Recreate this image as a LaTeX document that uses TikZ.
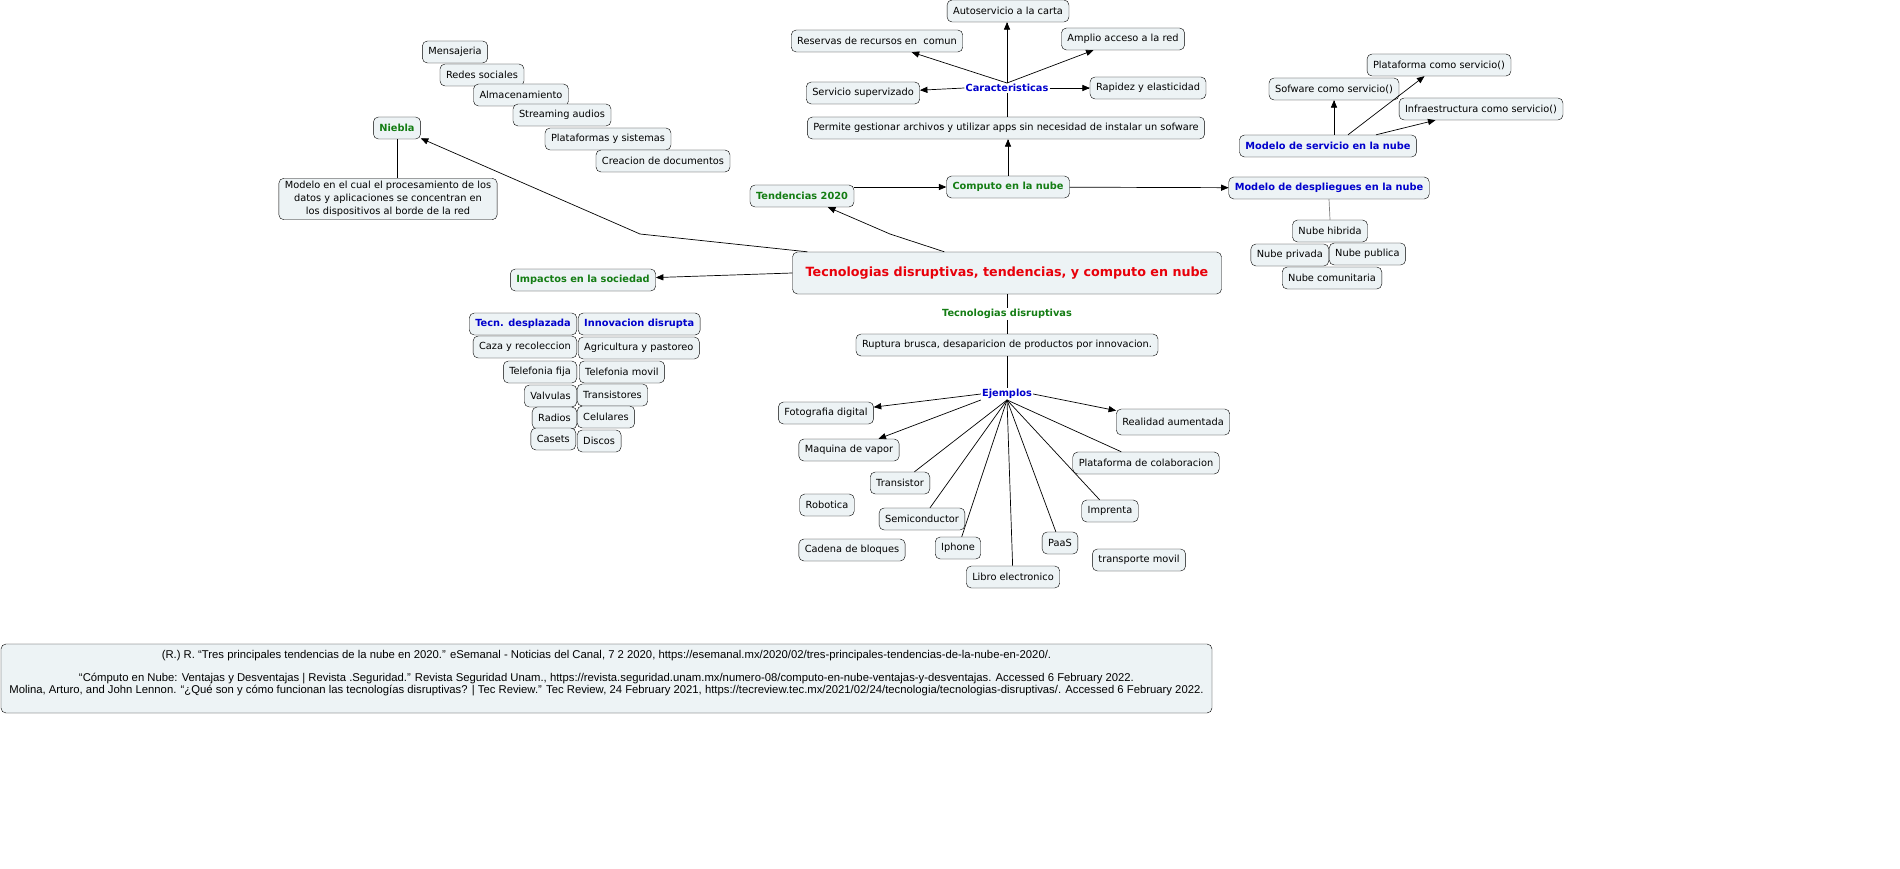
\documentclass[tikz,border=0pt]{standalone}
\usepackage{fontspec}
\setmainfont{DejaVu Sans}
\newfontfamily\bibfont{Liberation Sans}
\usepackage{tikz}
\usetikzlibrary{shapes.geometric, arrows}
\usetikzlibrary{positioning}
\usetikzlibrary{calc}
\definecolor{cmapfill}{RGB}{237,243,245}
\definecolor{cmapgreen}{RGB}{20,125,20}
\definecolor{cmapblue}{RGB}{0,0,204}
\definecolor{cmapred}{RGB}{232,0,10}
\tikzstyle{concept} = [rectangle, rounded corners=5pt, draw=black, fill=cmapfill, minimum height=22pt, inner xsep=6pt, inner ysep=2pt, font=\fontsize{9.8}{11}\selectfont]
\tikzstyle{greenbox} = [concept, text=cmapgreen, font=\fontsize{9.8}{11}\selectfont\bfseries]
\tikzstyle{bluebox} = [concept, text=cmapblue, font=\fontsize{9.8}{11}\selectfont\bfseries]
\tikzstyle{phrase} = [inner sep=1pt, font=\fontsize{9.8}{11}\selectfont\bfseries]
\tikzstyle{arrow} = [line width=0.7pt,->,>=triangle 45]
\tikzstyle{link} = [line width=0.7pt]

\begin{document}
\begin{tikzpicture}[x=1pt,y=-1pt]
    \useasboundingbox (0,0) rectangle (1900,869);
    \fill[white] (0,0) rectangle (1900,869);
    % computo en la nube
    \node[concept] (auto) at (1008,11) {Autoservicio a la carta};
    \node[concept] (reservas) at (877,41) {Reservas de recursos en\ \ comun};
    \node[concept] (amplio) at (1123,39) {Amplio acceso a la red};
    \node[concept] (supervizado) at (863,93) {Servicio supervizado};
    \node[phrase, text=cmapblue] (carac) at (1007,88) {Caracteristicas};
    \node[concept] (rapidez) at (1148,88) {Rapidez y elasticidad};
    \node[concept] (permite) at (1006,128) {Permite gestionar archivos y utilizar apps sin necesidad de instalar un sofware};
    \node[greenbox] (computo) at (1008,187) {Computo en la nube};
    \node[greenbox] (tendencias) at (802,196) {Tendencias 2020};
    \node[bluebox] (despliegue) at (1329,188) {Modelo de despliegues en la nube};
    \node[bluebox] (servicio) at (1328,146) {Modelo de servicio en la nube};
    \node[concept] (sofware) at (1334,89) {Sofware como servicio()};
    \node[concept] (plataforma) at (1439,65) {Plataforma como servicio()};
    \node[concept] (infra) at (1481,109) {Infraestructura como servicio()};
    \node[concept] (hibrida) at (1330,231) {Nube hibrida};
    \node[concept, anchor=east] (privada) at (1329,255) {Nube privada};
    \node[concept, anchor=west] (publica) at (1329,254) {Nube publica};
    \node[concept] (comunitaria) at (1332,278) {Nube comunitaria};
    % tema central
    \node[concept, minimum width=429pt, minimum height=42pt, text=cmapred, font=\fontsize{12.7}{14}\selectfont\bfseries] (tema) at (1007,273) {Tecnologias disruptivas, tendencias, y computo en nube};
    \node[greenbox] (impactos) at (583,280) {Impactos en la sociedad};
    \node[greenbox] (niebla) at (397,128) {Niebla};
    \node[concept, align=center, inner ysep=3pt, font=\fontsize{9.8}{13}\selectfont] (nieblatxt) at (388,199) {Modelo en el cual el procesamiento de los\\ datos y aplicaciones se concentran en\\ los dispositivos al borde de la red};
    % servicios sueltos
    \node[concept] (mensajeria) at (455,52) {Mensajeria};
    \node[concept] (redes) at (482,75) {Redes sociales};
    \node[concept] (almacen) at (521,95) {Almacenamiento};
    \node[concept] (streaming) at (562,115) {Streaming audios};
    \node[concept] (sistemas) at (608,139) {Plataformas y sistemas};
    \node[concept] (documentos) at (663,161) {Creacion de documentos};
    % impactos
    \node[bluebox, anchor=east] (desplazada) at (577,324) {Tecn. desplazada};
    \node[bluebox, anchor=west] (disrupta) at (578,324) {Innovacion disrupta};
    \node[concept, anchor=east] (caza) at (577,347) {Caza y recoleccion};
    \node[concept, anchor=west] (agricultura) at (578,348) {Agricultura y pastoreo};
    \node[concept, anchor=east] (fija) at (577,372) {Telefonia fija};
    \node[concept, anchor=west] (movil) at (579,372) {Telefonia movil};
    \node[concept, anchor=east] (valvulas) at (577,396) {Valvulas};
    \node[concept, anchor=west] (transistores) at (577,395) {Transistores};
    \node[concept, anchor=east] (radios) at (577,418) {Radios};
    \node[concept, anchor=west] (celulares) at (577,417) {Celulares};
    \node[concept, anchor=east] (casets) at (576,439) {Casets};
    \node[concept, anchor=west] (discos) at (577,441) {Discos};
    % tecnologias disruptivas
    \node[phrase, text=cmapgreen] (tecdis) at (1007,314) {Tecnologias disruptivas};
    \node[concept] (ruptura) at (1007,345) {Ruptura brusca, desaparicion de productos por innovacion.};
    \node[phrase, text=cmapblue] (ejemplos) at (1007,394) {Ejemplos};
    \node[concept] (fotografia) at (826,413) {Fotografia digital};
    \node[concept] (vapor) at (849,450) {Maquina de vapor};
    \node[concept, minimum height=26pt] (realidad) at (1173,422) {Realidad aumentada};
    \node[concept] (colaboracion) at (1146,463) {Plataforma de colaboracion};
    \node[concept] (transistor) at (900,483) {Transistor};
    \node[concept] (robotica) at (827,505) {Robotica};
    \node[concept] (semiconductor) at (922,519) {Semiconductor};
    \node[concept] (imprenta) at (1110,511) {Imprenta};
    \node[concept] (bloques) at (852,550) {Cadena de bloques};
    \node[concept] (iphone) at (958,548) {Iphone};
    \node[concept] (paas) at (1060,543) {PaaS};
    \node[concept] (transporte) at (1139,560) {transporte movil};
    \node[concept] (libro) at (1013,577) {Libro electronico};
    % fuentes
    \node[concept, minimum width=1211pt, minimum height=69pt, align=center, font=\bibfont\fontsize{11.3}{12.5}\selectfont] (fuentes) at (606.5,678.5) {(R.) R. “Tres principales tendencias de la nube en 2020.” eSemanal - Noticias del Canal, 7 2 2020, https://esemanal.mx/2020/02/tres-principales-tendencias-de-la-nube-en-2020/.\\[10pt]
        “Cómputo en Nube: Ventajas y Desventajas | Revista .Seguridad.” Revista Seguridad Unam., https://revista.seguridad.unam.mx/numero-08/computo-en-nube-ventajas-y-desventajas. Accessed 6 February 2022.\\
        Molina, Arturo, and John Lennon. “¿Qué son y cómo funcionan las tecnologías disruptivas? | Tec Review.” Tec Review, 24 February 2021, https://tecreview.tec.mx/2021/02/24/tecnologia/tecnologias-disruptivas/. Accessed 6 February 2022.\\ \mbox{}};

    % conexiones
    \coordinate (q1) at (640,234);
    \coordinate (q2) at (890,234);
    \draw[link] ($(tema.north west)+(15,0)$) -- (q1);
    \draw[arrow] (q1) -- (niebla);
    \draw[link] ($(tema.north west)+(152,0)$) -- (q2);
    \draw[arrow] (q2) -- (tendencias);
    \draw[arrow] (tema.west) -- (impactos);
    \draw[arrow] (tendencias.east |- computo) -- (computo);
    \draw[arrow] (computo.north) -- (computo.north |- permite.south);
    \draw[arrow] (computo) -- (despliegue);
    \draw[link, gray] (despliegue.south) -- (hibrida.north);
    \draw[link] (carac.south |- permite.north) -- (carac.south);
    \draw[arrow] (carac.north) -- (carac.north |- auto.south);
    \draw[arrow] (carac.north) -- (reservas);
    \draw[arrow] (carac.north) -- (amplio);
    \draw[arrow] (carac.west) -- (supervizado);
    \draw[arrow] (carac.east) -- (rapidez);
    \draw[arrow] (servicio.north -| sofware) -- (sofware);
    \draw[arrow] ($(servicio.north)+(20,0)$) -- (plataforma);
    \draw[arrow] ($(servicio.north)+(48,0)$) -- (infra);
    \draw[link] (niebla.south) -- (niebla.south |- nieblatxt.north);
    \draw[link] (tema.south) -- (tecdis);
    \draw[link] (tecdis) -- (ruptura);
    \draw[link] (ruptura) -- (ejemplos);
    \draw[arrow] (ejemplos.west) -- (fotografia);
    \draw[arrow] (ejemplos.south west) -- (vapor);
    \draw[arrow] (ejemplos.east) -- (realidad);
    \foreach \e in {transistor, semiconductor, iphone, libro, paas, imprenta, colaboracion}
        \draw[link] (ejemplos.south) -- (\e);
\end{tikzpicture}
\end{document}
